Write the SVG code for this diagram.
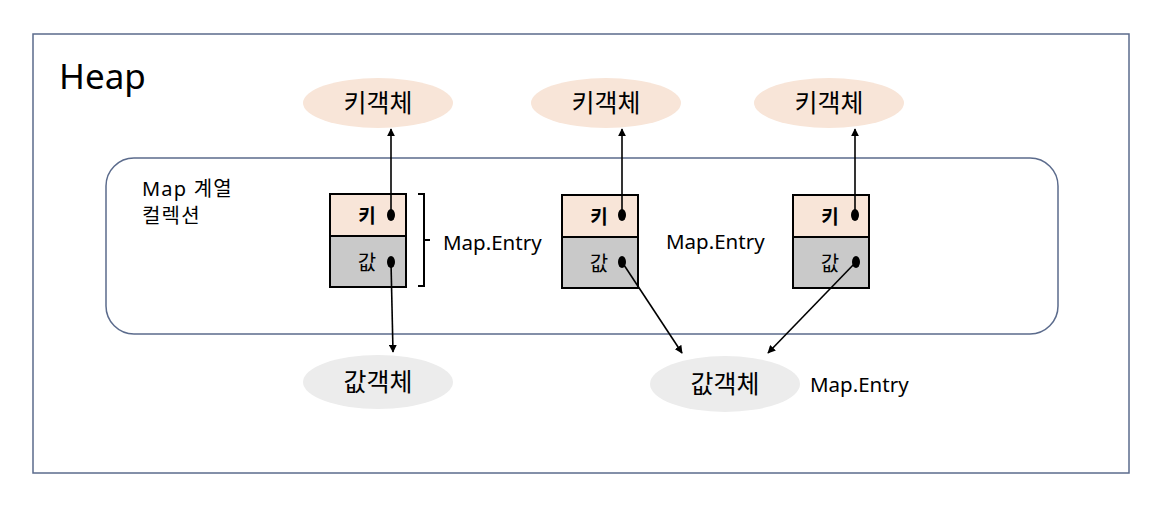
<svg xmlns="http://www.w3.org/2000/svg" width="1158" height="508" viewBox="0 0 1158 508">
<defs>
<marker id="arr" viewBox="0 0 10 10" refX="9" refY="5" markerWidth="8" markerHeight="8" markerUnits="userSpaceOnUse" orient="auto">
<path d="M0,0 L10,5 L0,10 z" fill="#000"/>
</marker>
<style>
text{font-family:"Noto Sans","Noto Sans CJK KR",sans-serif;fill:#000}
.kobj{fill:#f8e5d8}
.vobj{fill:#ececec}
.kc{fill:#f8e5d8;stroke:#000;stroke-width:2}
.vc{fill:#c9c9c9;stroke:#000;stroke-width:2}
.lbl{font-size:20.5px}
.col{font-size:20px;letter-spacing:1.2px}
.obj{font-size:25px;text-anchor:middle}
.cell{font-size:19px;text-anchor:middle}
.vcell{font-size:20px;text-anchor:middle}
.conn{stroke:#000;stroke-width:1.6;fill:none;marker-end:url(#arr)}
.dot{fill:#000}
</style>
</defs>
<rect x="0" y="0" width="1158" height="508" fill="#fff"/>
<g id="heap">
<rect x="33" y="34" width="1096" height="439" fill="none" stroke="#5b6b8c" stroke-width="1.5"/>
<text x="59" y="89" font-size="35">Heap</text>
</g>
<g id="collection">
<rect x="106" y="158" width="952" height="176" rx="28" fill="none" stroke="#5b6b8c" stroke-width="1.5"/>
<text x="142" y="196" class="col">Map 계열</text>
<text x="142" y="223" class="col">컬렉션</text>
</g>
<g id="key1"><ellipse cx="378" cy="103" rx="75" ry="25" class="kobj"/><text x="378" y="112" class="obj">키객체</text></g>
<g id="key2"><ellipse cx="606" cy="103" rx="75" ry="25" class="kobj"/><text x="606" y="112" class="obj">키객체</text></g>
<g id="key3"><ellipse cx="829" cy="103" rx="75" ry="25" class="kobj"/><text x="829" y="112" class="obj">키객체</text></g>
<g id="val1"><ellipse cx="378" cy="382" rx="75" ry="27" class="vobj"/><text x="378" y="391" class="obj">값객체</text></g>
<g id="val2"><ellipse cx="725" cy="384" rx="75" ry="28" class="vobj"/><text x="725" y="393" class="obj">값객체</text></g>
<g id="entry1">
<rect x="330" y="194" width="76" height="42" class="kc"/>
<rect x="330" y="236" width="76" height="51" class="vc"/>
<text x="367" y="223" class="cell" font-weight="bold">키</text>
<text x="367" y="270" class="vcell">값</text>
<path d="M418,194 H424 V286 H418 M424,240 H430" fill="none" stroke="#000" stroke-width="2"/>
<text x="443" y="250" class="lbl">Map.Entry</text>
</g>
<g id="entry2">
<rect x="562" y="195" width="76" height="42" class="kc"/>
<rect x="562" y="237" width="76" height="51" class="vc"/>
<text x="599" y="224" class="cell" font-weight="bold">키</text>
<text x="599" y="271" class="vcell">값</text>
<text x="666" y="249" class="lbl">Map.Entry</text>
</g>
<g id="entry3">
<rect x="793" y="195" width="76" height="42" class="kc"/>
<rect x="793" y="237" width="76" height="51" class="vc"/>
<text x="830" y="224" class="cell" font-weight="bold">키</text>
<text x="830" y="271" class="vcell">값</text>
</g>
<g id="label-entry"><text x="810" y="392" class="lbl">Map.Entry</text></g>
<g id="connectors">
<line x1="391" y1="215" x2="391" y2="129" class="conn"/>
<line x1="622" y1="215" x2="622" y2="129" class="conn"/>
<line x1="855" y1="215" x2="855" y2="129" class="conn"/>
<line x1="391" y1="262" x2="393" y2="352" class="conn"/>
<line x1="622" y1="262" x2="682" y2="353" class="conn"/>
<line x1="856" y1="262" x2="768" y2="353" class="conn"/>
<ellipse cx="391" cy="215" rx="4" ry="6" class="dot"/>
<ellipse cx="622" cy="215" rx="4" ry="6" class="dot"/>
<ellipse cx="855" cy="215" rx="4" ry="6" class="dot"/>
<ellipse cx="391" cy="262" rx="4" ry="6" class="dot"/>
<ellipse cx="622" cy="262" rx="4" ry="6" class="dot"/>
<ellipse cx="856" cy="262" rx="4" ry="6" class="dot"/>
</g>
</svg>
